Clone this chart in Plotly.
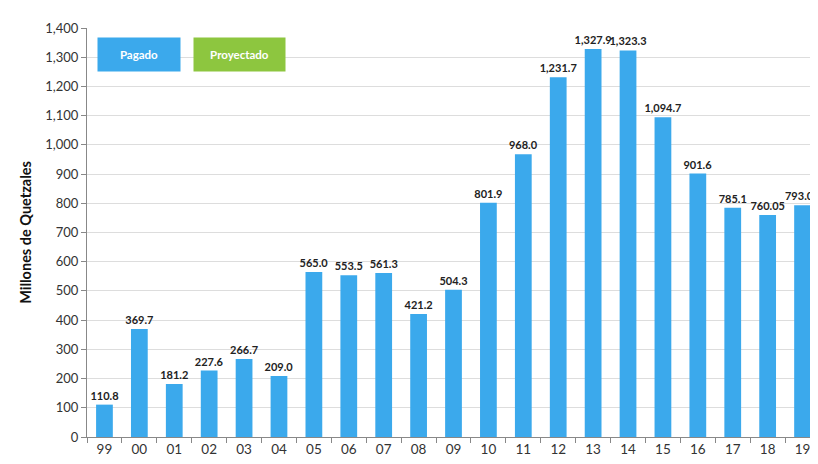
import plotly.graph_objects as go

years = ["99", "00", "01", "02", "03", "04", "05", "06", "07", "08", "09",
         "10", "11", "12", "13", "14", "15", "16", "17", "18", "19"]
values = [110.8, 369.7, 181.2, 227.6, 266.7, 209.0, 565.0, 553.5, 561.3, 421.2, 504.3,
          801.9, 968.0, 1231.7, 1327.9, 1323.3, 1094.7, 901.6, 785.1, 760.05, 793.04]
labels = ["110.8", "369.7", "181.2", "227.6", "266.7", "209.0", "565.0", "553.5", "561.3",
          "421.2", "504.3", "801.9", "968.0", "1,231.7", "1,327.9", "1,323.3", "1,094.7",
          "901.6", "785.1", "760.05", "793.04"]
yticks = list(range(0, 1401, 100))

BLUE = "#3BA9EC"
GREEN = "#8DC63F"
FONT = "Lato"

fig = go.Figure(go.Bar(
    x=years, y=values, text=labels, textposition="outside", constraintext="none",
    textfont=dict(family=FONT, size=11, color="#222222", weight="bold"),
    marker=dict(color=BLUE, line=dict(width=0)),
    width=0.48, cliponaxis=False, showlegend=False,
))

fig.update_layout(
    width=818, height=464,
    margin=dict(l=79, r=6, t=20, b=35),
    paper_bgcolor="white", plot_bgcolor="white",
    font=dict(family=FONT, color="#333333"),
    xaxis=dict(type="category", range=[-0.5, 20.5], tickson="boundaries",
               ticks="outside", ticklen=5, tickcolor="#888888", automargin=False,
               showline=True, linecolor="#888888", linewidth=1,
               tickfont=dict(size=13.5, color="#333333"), showgrid=False),
    yaxis=dict(range=[0, 1400], tickvals=yticks, tickformat=",d", automargin=False,
               ticks="outside", ticklen=5, tickcolor="#888888",
               showline=True, linecolor="#888888", linewidth=1,
               gridcolor="#DDDDDD", gridwidth=1, zeroline=False,
               tickfont=dict(size=13, color="#333333"),
               title=dict(text="<b>Millones de Quetzales</b>", standoff=10,
                          font=dict(size=14.5, color="#111111"))),
    bargap=0.52,
)

fig.add_annotation(xref="paper", yref="paper", x=0.0137, y=0.977, xanchor="left", yanchor="top",
                   text="<b>Pagado</b>", showarrow=False, bgcolor=BLUE, width=76, height=27,
                   borderpad=3, font=dict(family=FONT, size=11.5, color="white"))
fig.add_annotation(xref="paper", yref="paper", x=0.145, y=0.977, xanchor="left", yanchor="top",
                   text="<b>Proyectado</b>", showarrow=False, bgcolor=GREEN, width=85, height=27,
                   borderpad=3, font=dict(family=FONT, size=11.5, color="white"))

fig.write_html("out.html")
